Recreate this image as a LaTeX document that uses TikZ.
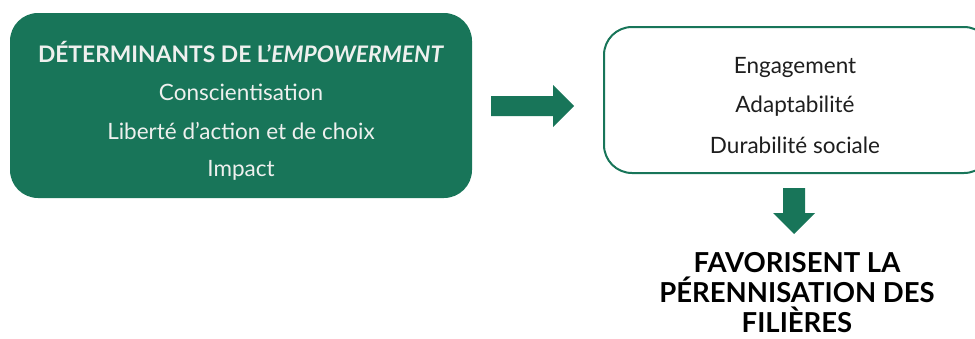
\documentclass[tikz,border=0pt]{standalone}
\usepackage{fontspec}
\setmainfont{Lato}
\definecolor{dgreen}{RGB}{24,117,89}
\definecolor{ltext}{RGB}{238,240,238}
\definecolor{dtext}{RGB}{30,30,30}
\begin{document}
\begin{tikzpicture}[x=1pt,y=-1pt,
  greenbox/.style={rectangle, fill=dgreen, rounded corners=28pt, inner sep=0pt},
  whitebox/.style={rectangle, draw=dgreen, line width=2pt, fill=white, rounded corners=28pt, inner sep=0pt},
  intext/.style={font=\fontsize{22.5}{27}\selectfont, text=ltext, inner sep=0pt, anchor=center},
  outtext/.style={font=\fontsize{22.5}{27}\selectfont, text=dtext, inner sep=0pt, anchor=center},
  headtext/.style={font=\bfseries\fontsize{22.8}{27}\selectfont, text=ltext, inner sep=0pt, anchor=center},
  conclusion/.style={font=\bfseries\fontsize{27.5}{30}\selectfont, text=black, align=center, inner sep=0pt},
  blockarrow/.style={fill=dgreen}
]
\useasboundingbox (0,0) rectangle (975,338);
\begin{scope}
\clip (0,0) rectangle (975,338);
\node[greenbox, minimum width=462pt, minimum height=185pt] (det) at (241,105.5) {};
\node[headtext] (t0) at (241,52) {DÉTERMINANTS DE L’\textit{EMPOWERMENT}};
\node[intext] (t1) at (241,92) {Conscientisation};
\node[intext] (t2) at (241,131) {Liberté d’action et de choix};
\node[intext] (t3) at (241,170) {Impact};

\node[whitebox, minimum width=388pt, minimum height=146pt] (res) at (798,100) {};
\node[outtext] (r1) at (795,67) {Engagement};
\node[outtext] (r2) at (795,106) {Adaptabilité};
\node[outtext] (r3) at (795,145) {Durabilité sociale};

% right arrow
\coordinate (ra) at (491,106);
\fill[blockarrow] (ra) ++(0,-10) -- ++(62,0) -- ++(0,-11) -- (574,106) -- (553,127) -- ++(0,-11) -- ++(-62,0) -- cycle;
% down arrow
\coordinate (da) at (794,188);
\fill[blockarrow] (da) ++(-11,0) -- ++(22,0) -- ++(0,25) -- ++(10,0) -- (794,234) -- (773,213) -- ++(10,0) -- cycle;

\node[conclusion] (c) at (797,293) {FAVORISENT LA\\PÉRENNISATION DES\\FILIÈRES};
\end{scope}
\end{tikzpicture}
\end{document}
